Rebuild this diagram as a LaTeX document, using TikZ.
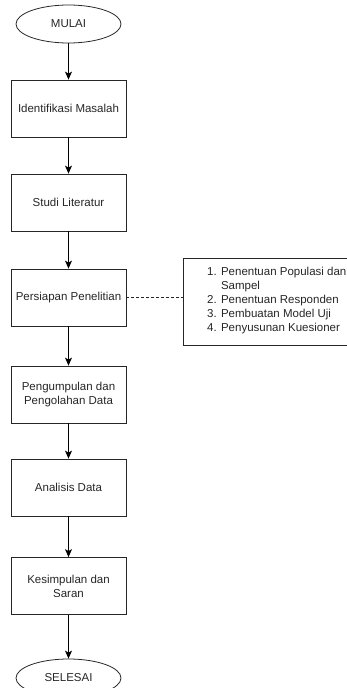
\documentclass[tikz,border=0pt]{standalone}
\usepackage{fontspec}
\setmainfont{Liberation Sans}
\usetikzlibrary{shapes.geometric,arrows.meta}
\begin{document}
\begin{tikzpicture}[x=1pt,y=-1pt,
  every node/.style={font=\fontsize{11.5}{14}\selectfont, text=black!85},
  procbox/.style={draw=black!85, line width=0.8pt, minimum width=115pt, minimum height=57pt, align=center, inner sep=0pt},
  term/.style={draw=black!85, line width=0.8pt, ellipse, minimum width=105pt, minimum height=38pt, inner sep=0pt},
  flow/.style={draw=black, line width=0.8pt, -{Stealth[length=8pt,width=7pt,inset=2pt]}},
  note/.style={draw=black!85, line width=0.8pt, dashed, dash pattern=on 2.5pt off 2.5pt}
]
\useasboundingbox (0,0) rectangle (347,688);
\clip (0,0) rectangle (347,688);
\node[term] (mulai) at (68.5,24) {MULAI};
\node[procbox] (identifikasi) at (68.5,108.5) {Identifikasi Masalah};
\node[procbox] (studi) at (68.5,202.5) {Studi Literatur};
\node[procbox] (persiapan) at (68.5,297.5) {Persiapan Penelitian};
\node[procbox] (pengumpulan) at (68.5,394.5) {Pengumpulan dan\\Pengolahan Data};
\node[procbox] (analisis) at (68.5,487.5) {Analisis Data};
\node[procbox] (kesimpulan) at (68.5,586) {Kesimpulan dan\\Saran};
\node[term] (selesai) at (68.5,678) {SELESAI};
\node[draw=black!85, line width=0.8pt, minimum width=180pt, minimum height=87pt, inner sep=0pt, anchor=north west] (tahapan) at (183,258) {};
\node[anchor=west, align=left, inner sep=0pt] (daftar) at (207,301) {1. Penentuan Populasi dan\\\phantom{1. }Sampel\\2. Penentuan Responden\\3. Pembuatan Model Uji\\4. Penyusunan Kuesioner};
\draw[flow] (mulai) -- (identifikasi);
\draw[flow] (identifikasi) -- (studi);
\draw[flow] (studi) -- (persiapan);
\draw[flow] (persiapan) -- (pengumpulan);
\draw[flow] (pengumpulan) -- (analisis);
\draw[flow] (analisis) -- (kesimpulan);
\draw[flow] (kesimpulan) -- (selesai);
\draw[note] (persiapan.east) -- (persiapan.east -| tahapan.west);
\end{tikzpicture}
\end{document}
